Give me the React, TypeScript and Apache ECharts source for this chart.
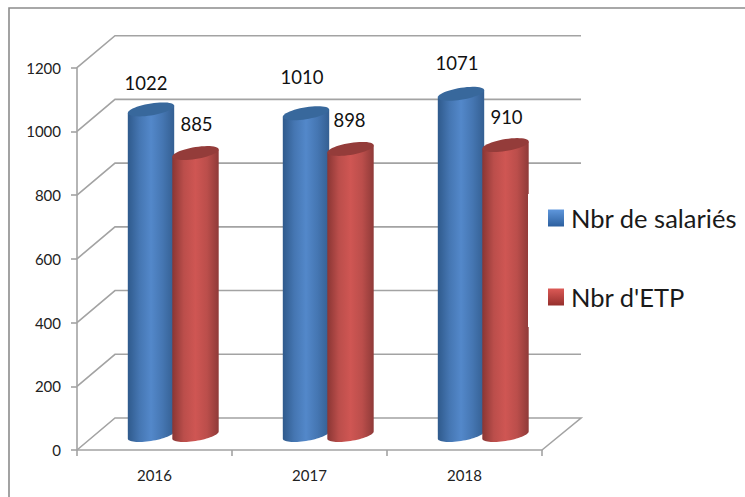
import React, { useEffect, useRef } from "react";
import * as echarts from "echarts";

const categories = ["2016", "2017", "2018"];
const salaries = [1022, 1010, 1071];
const etp = [885, 898, 910];
const yTicks = [0, 200, 400, 600, 800, 1000, 1200];
const salariesName = "Nbr de salariés";
const etpName = "Nbr d'ETP";

const salariesNudge = [[-5, -26], [-4, -36], [-4, -31]];
const etpNudge = [[1, -29], [-1, -29], [1, -28]];

const FONT = "Lato, 'Open Sans', sans-serif";
const RX = 23.2;
const RY = 6;
const TILT = 3.6;
const LIFT = 15;
const DEPTH_X = 38;
const DEPTH_Y = 32;
const BACK_RIGHT = 581;

const ellipsePoint = (cx: number, cy: number, t: number) => [
  cx + RX * Math.cos(t),
  cy + RY * Math.sin(t) - TILT * Math.cos(t),
];

const sweep = (cx: number, cy: number, from: number, to: number, n: number) => {
  const pts: number[][] = [];
  for (let i = 0; i <= n; i++) pts.push(ellipsePoint(cx, cy, from + ((to - from) * i) / n));
  return pts;
};

const sideFill = (stops: string[]) =>
  new echarts.graphic.LinearGradient(0, 0, 1, 0, [
    { offset: 0, color: stops[0] },
    { offset: 0.25, color: stops[1] },
    { offset: 0.5, color: stops[2] },
    { offset: 0.75, color: stops[1] },
    { offset: 1, color: stops[3] },
  ]);

const cylinderSeries = (
  name: string,
  values: number[],
  dx: number,
  nudges: number[][],
  stops: string[],
  topColor: string,
) => ({
  name,
  type: "custom",
  z: 3,
  clip: false,
  encode: { x: 0, y: 1 },
  data: values.map((v, i) => [i, v]),
  renderItem: (_p: any, api: any) => {
    const i = api.value(0);
    const v = api.value(1);
    const top = api.coord([i, v]);
    const base = api.coord([i, 0]);
    const cx = top[0] + dx;
    const topY = top[1] - LIFT;
    const baseY = base[1] - LIFT;
    const left = ellipsePoint(cx, topY, Math.PI);
    const right = ellipsePoint(cx, topY, 0);
    return {
      type: "group",
      children: [
        {
          type: "polygon",
          shape: { points: [left, ...sweep(cx, baseY, Math.PI, 0, 32), right] },
          style: { fill: sideFill(stops) },
        },
        {
          type: "polygon",
          shape: { points: sweep(cx, topY, 0, Math.PI * 2, 48) },
          style: { fill: topColor },
        },
        {
          type: "text",
          x: cx + nudges[i][0],
          y: topY + nudges[i][1],
          style: {
            text: String(v),
            fill: "#111111",
            font: `18.5px ${FONT}`,
            align: "center",
            verticalAlign: "middle",
          },
        },
      ],
    };
  },
});

const gridSeries = {
  type: "custom",
  z: 1,
  clip: false,
  silent: true,
  encode: { x: 0, y: 1 },
  data: yTicks.map((v) => [0, v]),
  renderItem: (params: any, api: any) => {
    const y = api.coord([0, api.value(1)])[1];
    const x0 = params.coordSys.x;
    const pts = [
      [x0, y],
      [x0 + DEPTH_X, y - DEPTH_Y],
      [BACK_RIGHT, y - DEPTH_Y],
    ];
    if (api.value(1) === 0) pts.push([params.coordSys.x + params.coordSys.width, y]);
    return {
      type: "polyline",
      shape: { points: pts },
      style: { stroke: "#a3a3a3", lineWidth: 1.6, fill: "none" },
    };
  },
};

const axisLine = { lineStyle: { color: "#a3a3a3", width: 1.6 } };

export default function App() {
  const ref = useRef<HTMLDivElement>(null);
  useEffect(() => {
    document.body.style.margin = "0";
    document.body.style.background = "#ffffff";
    const chart = echarts.init(ref.current!, undefined, { renderer: "svg" });
    chart.setOption({
      animation: false,
      backgroundColor: "#ffffff",
      textStyle: { fontFamily: FONT },
      grid: { left: 77, right: 203, top: 67.7, bottom: 47 },
      xAxis: {
        type: "category",
        data: categories,
        axisLine: { show: true, ...axisLine },
        axisTick: { show: true, length: 6, lineStyle: axisLine.lineStyle },
        axisLabel: { color: "#222222", fontSize: 15, margin: 17, fontFamily: FONT },
      },
      yAxis: {
        type: "value",
        min: 0,
        max: 1200,
        interval: 200,
        axisLine: { show: true, ...axisLine },
        axisTick: { show: true, length: 6, lineStyle: axisLine.lineStyle },
        splitLine: { show: false },
        axisLabel: {
          color: "#222222",
          fontSize: 15,
          margin: 16,
          fontFamily: FONT,
          formatter: (v: number) => String(v),
        },
      },
      legend: {
        orient: "vertical",
        left: 528,
        top: 194,
        padding: [11, 6, 17, 20],
        backgroundColor: "#ffffff",
        itemWidth: 16,
        itemHeight: 17,
        itemGap: 53,
        icon: "rect",
        selectedMode: false,
        textStyle: { fontSize: 25.5, color: "#1a1a1a", fontFamily: FONT, padding: [0, 0, 0, 2] },
        data: [
          {
            name: salariesName,
            itemStyle: {
              color: new echarts.graphic.LinearGradient(0, 0, 0, 1, [
                { offset: 0, color: "#5f97dc" },
                { offset: 1, color: "#2c5f9e" },
              ]),
            },
          },
          {
            name: etpName,
            itemStyle: {
              color: new echarts.graphic.LinearGradient(0, 0, 0, 1, [
                { offset: 0, color: "#dc5a56" },
                { offset: 1, color: "#952f2c" },
              ]),
            },
          },
        ],
      },
      graphic: [
        {
          type: "polyline",
          silent: true,
          shape: { points: [[9, 497], [9, 8], [745, 8]] },
          style: { stroke: "#8c8c8c", lineWidth: 1.6, fill: "none" },
        },
      ],
      series: [
        gridSeries,
        cylinderSeries(salariesName, salaries, -3.5, salariesNudge, ["#2f5a8c", "#4576b2", "#5388ca", "#345f92"], "#38689c"),
        cylinderSeries(etpName, etp, 41, etpNudge, ["#8a3634", "#bb4e4b", "#cf5653", "#8f3a38"], "#943c3a"),
      ],
    });
    return () => chart.dispose();
  }, []);
  return <div ref={ref} style={{ position: "absolute", left: 0, top: 0, width: 745, height: 497 }} />;
}
